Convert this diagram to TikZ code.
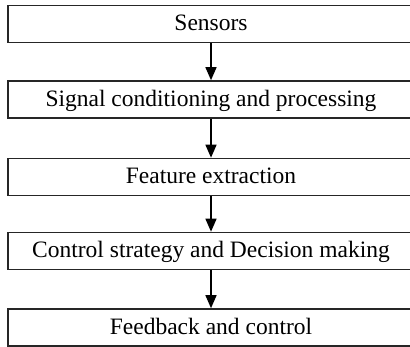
\documentclass[tikz,border=0pt]{standalone}
\usepackage{fontspec}
\setmainfont{Liberation Serif}
\usetikzlibrary{arrows.meta}
\begin{document}
\begin{tikzpicture}[x=1pt,y=-1pt,
  stagebox/.style={draw=black!85, line width=1.6pt, minimum width=406pt, minimum height=37pt,
    inner sep=0pt, font=\fontsize{23.5}{27}\selectfont, text height=17pt, text depth=3pt},
  flow/.style={draw=black, line width=1.4pt, -{Triangle[width=11pt,length=13pt]}}]
\useasboundingbox (0,0) rectangle (410,347);
\node[stagebox] (s1) at (211,24) {Sensors};
\node[stagebox] (s2) at (211,99.5) {Signal conditioning and processing};
\node[stagebox] (s3) at (211,177) {Feature extraction};
\node[stagebox] (s4) at (211,251) {Control strategy and Decision making};
\node[stagebox] (s5) at (211,327.5) {Feedback and control};
\draw[flow] (s1) -- (s2);
\draw[flow] (s2) -- (s3);
\draw[flow] (s3) -- (s4);
\draw[flow] (s4) -- (s5);
\end{tikzpicture}
\end{document}
